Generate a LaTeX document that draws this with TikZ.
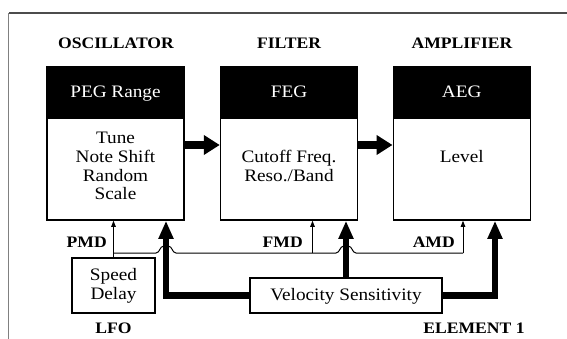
\documentclass[tikz,border=0pt]{standalone}
\usepackage{fontspec}
\setmainfont{Liberation Serif}[FakeStretch=1.1]
\usetikzlibrary{arrows.meta}
\begin{document}
\begin{tikzpicture}[x=1pt,y=-1pt,
  lbl/.style={font=\fontsize{16}{18}\selectfont\bfseries, inner sep=0pt, anchor=base},
  txt/.style={font=\fontsize{17.5}{19}\selectfont, inner sep=0pt, anchor=base},
  hdrtxt/.style={txt, text=white},
  mainbox/.style={draw, line width=1.5pt, fill=white, minimum width=137pt, minimum height=153pt, inner sep=0pt},
  hdrbox/.style={fill=black, minimum width=137pt, minimum height=52pt, inner sep=0pt},
  smallbox/.style={draw, line width=1.5pt, fill=white, inner sep=0pt},
  fatarrow/.style={line width=8pt, -{Triangle[length=16pt,width=19pt]}},
  fatv/.style={line width=6.5pt, -{Triangle[length=18pt,width=14pt]}},
  thinline/.style={line width=1pt},
  thinarrow/.style={line width=1pt, -{Triangle[length=6pt,width=4.5pt]}},
]
\useasboundingbox (0,0) rectangle (567,339);
% frame
\draw[black!70, line width=1.2pt] (567,13) -- (8.5,13);
\draw[black!50, line width=1.2pt] (8.5,13) -- (8.5,339);

% headings
\node[lbl] (hosc) at (116,48.5) {OSCILLATOR};
\node[lbl] (hflt) at (289,48.5) {FILTER};
\node[lbl] (hamp) at (462,48.5) {AMPLIFIER};

% main boxes
\node[mainbox] (osc) at (115.5,143.5) {};
\node[hdrbox] (oscH) at (115.5,93) {};
\node[mainbox] (flt) at (289,143.5) {};
\node[hdrbox] (fltH) at (289,93) {};
\node[mainbox] (amp) at (461.75,143.5) {};
\node[hdrbox] (ampH) at (461.75,93) {};

\node[hdrtxt] (oscHT) at (115.5,98) {PEG Range};
\node[hdrtxt] (fltHT) at (289,98) {FEG};
\node[hdrtxt] (ampHT) at (461.75,98) {AEG};

\node[txt] (o1) at (115.5,144) {Tune};
\node[txt] (o2) at (115.5,162.7) {Note Shift};
\node[txt] (o3) at (115.5,181.3) {Random};
\node[txt] (o4) at (115.5,200) {Scale};

\node[txt] (f1) at (289,163) {Cutoff Freq.};
\node[txt] (f2) at (289,182) {Reso./Band};

\node[txt] (a1) at (461.75,163) {Level};

% arrows between boxes
\draw[fatarrow] ([yshift=-1.5pt]osc.east) -- ([yshift=-1.5pt]flt.west);
\draw[fatarrow] ([yshift=-1.5pt]flt.east) -- ([yshift=-1.5pt]amp.west);

% LFO and velocity boxes
\node[smallbox, minimum width=83pt, minimum height=55pt] (lfo) at (113.5,285.5) {};
\node[txt] (l1) at (113.5,280) {Speed};
\node[txt] (l2) at (113.5,299) {Delay};
\node[smallbox, minimum width=192pt, minimum height=35pt] (vel) at (346,295.5) {};
\node[txt] (v1) at (346,300) {Velocity Sensitivity};

\node[lbl] (lfolbl) at (113.5,333) {LFO};
\node[lbl] (ellbl) at (474,333) {ELEMENT 1};

% LFO modulation (thin)
\coordinate (lj) at (113.5,253);
\coordinate (fj) at (312.5,253);
\coordinate (aj) at (463,253);
\draw[thinarrow] (lfo.north) -- (lfo.north |- osc.south);
\draw[thinline] (lj) -- (156,253) .. controls (160,253) and (159.5,246) .. (164,246)
  -- (168,246) .. controls (172.5,246) and (172,253) .. (176,253)
  -- (336,253) .. controls (340,253) and (339.5,246) .. (344,246)
  -- (348,246) .. controls (352.5,246) and (352,253) .. (356,253)
  -- (aj);
\draw[thinarrow] (fj) -- (fj |- flt.south);
\draw[thinarrow] (aj) -- (aj |- amp.south);

\node[lbl, anchor=base east] (pmd) at (107,247) {PMD};
\node[lbl, anchor=base east] (fmd) at (303,247) {FMD};
\node[lbl, anchor=base east] (amd) at (455,247) {AMD};

% velocity sensitivity (thick)
\draw[fatv] (vel.west) -| ([xshift=50.5pt]osc.south);
\draw[fatv] (vel.north) -- (vel.north |- flt.south);
\draw[fatv] (vel.east) -| ([xshift=33.25pt]amp.south);
\end{tikzpicture}
\end{document}
